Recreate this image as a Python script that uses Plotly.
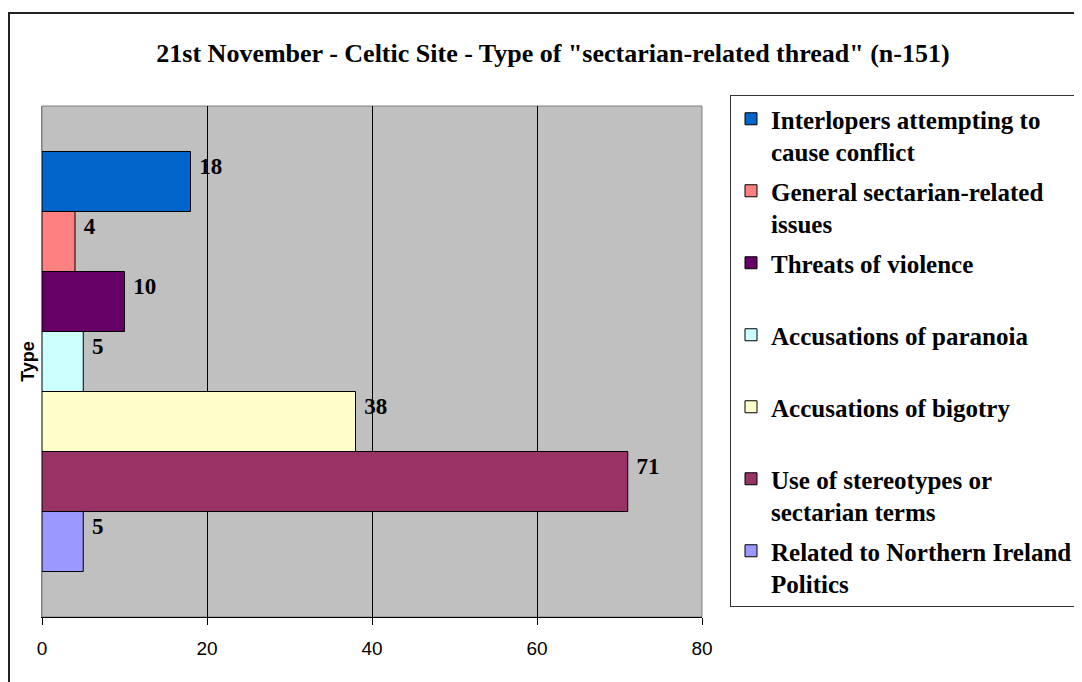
import plotly.graph_objects as go

categories = ["Type"]
series_names = [
    "Interlopers attempting to<br>cause conflict",
    "General sectarian-related<br>issues",
    "Threats of violence<br> ",
    "Accusations of paranoia<br> ",
    "Accusations of bigotry<br> ",
    "Use of stereotypes or<br>sectarian terms",
    "Related to Northern Ireland<br>Politics",
]
series_values = [18, 4, 10, 5, 38, 71, 5]
series_colors = ["#0066CC", "#FF8080", "#660066", "#CCFFFF", "#FFFFCC", "#993366", "#9999FF"]
x_ticks = [0, 20, 40, 60, 80]

title_text = '21st November - Celtic Site - Type of "sectarian-related thread" (n-151)'

# page is rendered with an 8px body margin, so layout is offset by -8px
L, R, T, B = 34, 694, 98, 609
W, H = 1082, 682
pw, ph = R - L, B - T

fig = go.Figure()
for i, (name, val, col) in enumerate(zip(series_names, series_values, series_colors)):
    fig.add_trace(go.Bar(
        y=categories, x=[val], name=f"<b>{name}</b>", orientation="h",
        marker=dict(color=col, line=dict(color="black", width=1)),
        text=[f"<b> {val}</b><br> "], textposition="outside", cliponaxis=False,
        constraintext="none",
        textfont=dict(family="Liberation Serif", size=23, color="black"),
        legendgroup=f"g{i}",
    ))

fig.update_layout(
    width=W, height=H,
    margin=dict(l=L, r=W - R, t=T, b=H - B, autoexpand=False),
    paper_bgcolor="white", plot_bgcolor="#C0C0C0",
    barmode="group", bargap=0.178, bargroupgap=0,
    showlegend=True,
    title=dict(text=f"<b>{title_text}</b>", x=545 / W, xref="container", xanchor="center",
               y=1 - 45 / H, yref="container", yanchor="middle",
               font=dict(family="Liberation Serif", size=26, color="black")),
    legend=dict(
        x=(722 - L) / pw, y=(B - 87) / ph, xanchor="left", yanchor="top",
        bordercolor="#333333", borderwidth=1, bgcolor="white",
        traceorder="grouped", valign="top", tracegroupgap=4, maxheight=600,
        font=dict(family="Liberation Serif", size=25, color="black"),
    ),
    xaxis=dict(
        range=[0, 80], tickvals=x_ticks, showgrid=True, gridcolor="black", gridwidth=1,
        zeroline=False, showline=True, linecolor="black", linewidth=1,
        ticks="outside", ticklen=7, tickcolor="black", ticklabelstandoff=7,
        tickfont=dict(family="Liberation Sans", size=19, color="black"),
    ),
    yaxis=dict(
        autorange="reversed", showticklabels=False, showgrid=False, zeroline=False,
        showline=True, linecolor="#808080", linewidth=1, ticks="", automargin=False,
        title=dict(text="<b>Type</b>", standoff=1,
                   font=dict(family="Liberation Sans", size=18, color="black")),
    ),
    font=dict(family="Liberation Serif"),
)

# plot-area border and outer chart border
fig.add_shape(type="rect", xref="paper", yref="paper", x0=0, x1=1, y0=0, y1=1,
              line=dict(color="#808080", width=1), layer="below")
fig.add_shape(type="rect", xref="paper", yref="paper",
              x0=(1 - L) / pw, x1=(W + 20 - L) / pw,
              y0=(B - (H + 20)) / ph, y1=(B - 5) / ph,
              line=dict(color="#222222", width=2), layer="below")

fig.write_html("out.html")
